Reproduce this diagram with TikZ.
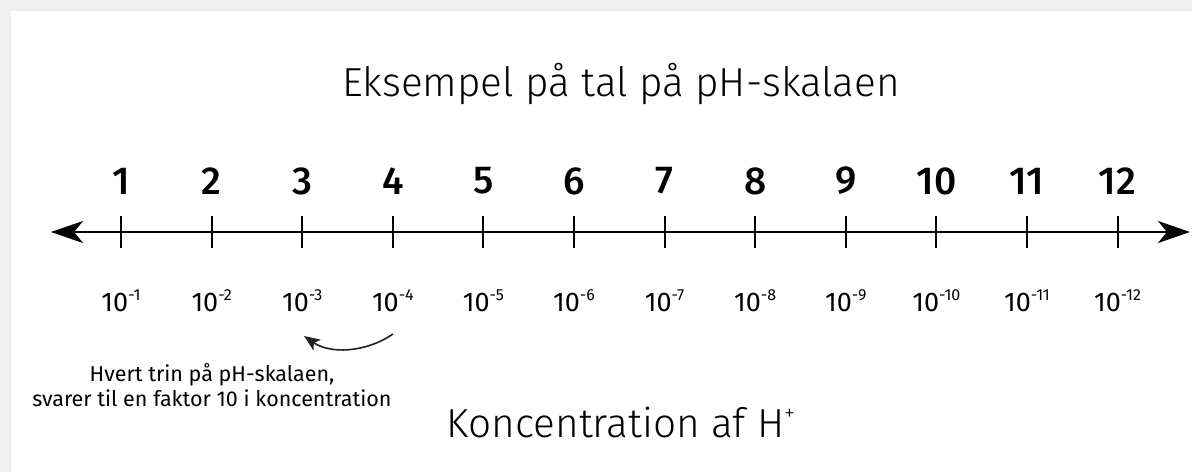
\documentclass[tikz,border=0pt]{standalone}
\usepackage{fontspec}
\setmainfont{Fira Sans}
\newfontfamily\titlefont{Fira Sans Light}
\newfontfamily\numfont{Fira Sans Medium}
\usetikzlibrary{arrows.meta}
\definecolor{framegray}{HTML}{F0F0F0}
\definecolor{inkgray}{HTML}{222222}
\newcommand{\tenpow}[1]{10\raisebox{0.42em}{\fontsize{16}{16}\selectfont -#1}}
\tikzset{
  axisline/.style={line width=2pt, black, {Stealth[length=32pt,width=22pt,inset=9pt]}-{Stealth[length=32pt,width=22pt,inset=9pt]}},
  tickmark/.style={line width=2pt, black},
  phnum/.style={font=\numfont\fontsize{39}{39}\selectfont, anchor=center, inner sep=0pt},
  conc/.style={font=\rmfamily\fontsize{27}{27}\selectfont, anchor=center, inner sep=0pt},
  heading/.style={font=\titlefont\fontsize{40.5}{40.5}\selectfont, inner sep=0pt},
  note/.style={font=\rmfamily\fontsize{21.5}{25}\selectfont, align=center, inner sep=0pt},
  bendarrow/.style={line width=1.6pt, inkgray, -{Stealth[length=16pt,width=13pt,inset=4pt]}}
}
\begin{document}
\begin{tikzpicture}[x=1pt,y=-1pt]
\fill[framegray] (0,0) rectangle (1192,472);
\fill[white] (11,11) rectangle (1192,472);
\useasboundingbox (0,0) rectangle (1192,472);
\node[heading] (title) at (621,84) {Eksempel på tal på pH-skalaen};
\coordinate (axL) at (51,232);
\coordinate (axR) at (1190,232);
\draw[axisline] (axL) -- (axR);
\foreach \i in {1,...,12}{
  \pgfmathsetmacro{\xx}{121+(\i-1)*90.6}
  \coordinate (t\i) at (\xx,232);
  \draw[tickmark] ([yshift=-16pt]t\i) -- ([yshift=16pt]t\i);
  \node[phnum] (n\i) at (\xx,181) {\i};
  \node[conc] (c\i) at (\xx,301) {\tenpow{\i}};
}
\coordinate (bendS) at (393,334);
\coordinate (bendE) at (304,336);
\draw[bendarrow] (bendS) .. controls (365,353) and (330,354) .. (bendE);
\node[note] (expl) at (212,385) {Hvert trin på pH-skalaen,\\svarer til en faktor 10 i koncentration};
\node[heading] (conclabel) at (621,422) {Koncentration af H\raisebox{0.42em}{\fontsize{22}{22}\selectfont +}};
\end{tikzpicture}
\end{document}
